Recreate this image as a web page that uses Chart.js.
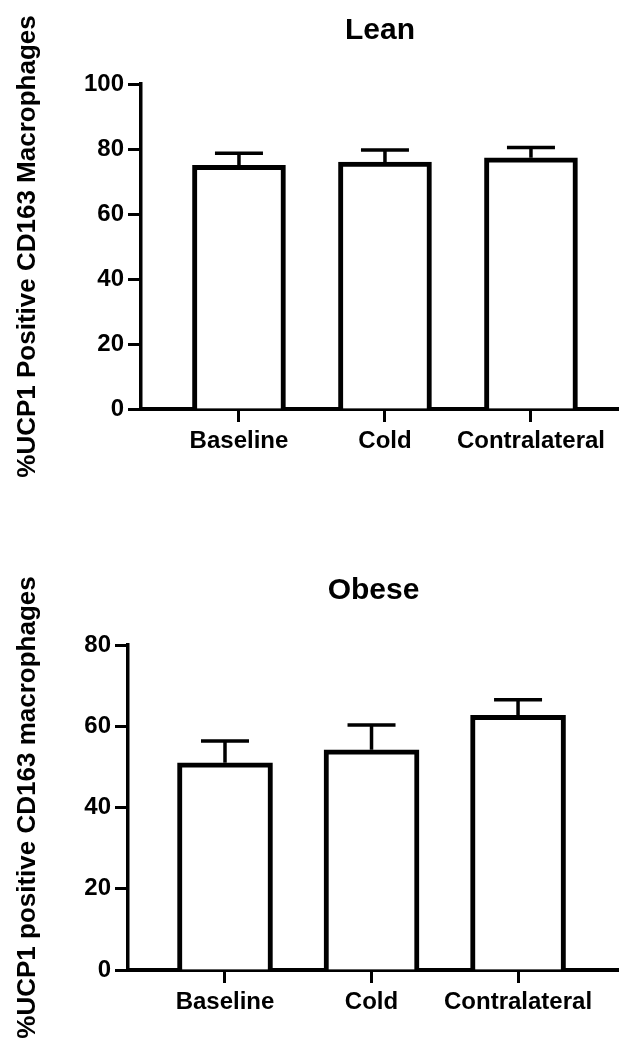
<!DOCTYPE html>
<html>
<head>
<meta charset="utf-8">
<script src="https://cdn.jsdelivr.net/npm/chart.js@4.4.0/dist/chart.umd.min.js"></script>
<style>
  body { margin: 0; background: #fff; }
  .panel { position: absolute; left: 0; }
</style>
</head>
<body>
<div class="panel" style="top:0"><canvas id="lean-chart" width="619" height="520"></canvas></div>
<div class="panel" style="top:520px"><canvas id="obese-chart" width="619" height="524"></canvas></div>
<script>
const categories = ['Baseline', 'Cold', 'Contralateral'];

const leanMeans = [75, 76, 77.3];
const leanErrors = [3.7, 3.7, 3.2];

const obeseMeans = [51, 54.2, 62.7];
const obeseErrors = [5.4, 6.1, 3.8];

const leanTicks = [0, 20, 40, 60, 80, 100];
const obeseTicks = [0, 20, 40, 60, 80];

Chart.defaults.font.family = "'Liberation Sans', Arial, sans-serif";
Chart.defaults.font.weight = 'bold';
Chart.defaults.color = '#000';

// error bars (upper only), drawn with the y scale
function errorBarPlugin(errors) {
    return {
        id: 'errorBars',
        afterDatasetsDraw(chart) {
            const ctx = chart.ctx;
            const yScale = chart.scales.y;
            const meta = chart.getDatasetMeta(0);
            const points = chart.data.datasets[0].data;
            ctx.save();
            ctx.strokeStyle = '#000';
            ctx.lineWidth = 3.5;
            meta.data.forEach((bar, i) => {
                const top = yScale.getPixelForValue(points[i].y + errors[i]);
                ctx.beginPath();
                ctx.moveTo(bar.x, bar.y);
                ctx.lineTo(bar.x, top);
                ctx.moveTo(bar.x - 24, top);
                ctx.lineTo(bar.x + 24, top);
                ctx.stroke();
            });
            ctx.restore();
        }
    };
}

// long rotated y title (the built-in one gets squeezed to the axis height)
function yTitlePlugin(text) {
    return {
        id: 'yTitle',
        afterDraw(chart) {
            const ctx = chart.ctx;
            const area = chart.chartArea;
            ctx.save();
            ctx.translate(35, (area.top + area.bottom) / 2);
            ctx.rotate(-Math.PI / 2);
            ctx.font = "bold 26px 'Liberation Sans', Arial, sans-serif";
            ctx.fillStyle = '#000';
            ctx.textAlign = 'center';
            ctx.textBaseline = 'alphabetic';
            ctx.fillText(text, 0, 0);
            ctx.restore();
        }
    };
}

function renderPanel(canvasId, title, yTitle, means, errors, ticks, cfg) {
    const ctx = document.getElementById(canvasId).getContext('2d');
    return new Chart(ctx, {
        type: 'bar',
        data: {
            datasets: [{
                data: means.map((v, i) => ({ x: i + 1, y: v })),
                backgroundColor: '#fff',
                borderColor: '#000',
                borderWidth: 5,
                barThickness: cfg.barThickness
            }]
        },
        options: {
            responsive: false,
            animation: false,
            layout: { padding: { left: 0, right: 0, top: 0, bottom: cfg.bottomPad } },
            scales: {
                x: {
                    type: 'linear',
                    offset: false,
                    min: cfg.xMin,
                    max: cfg.xMax,
                    afterBuildTicks: (axis) => {
                        axis.ticks = categories.map((c, i) => ({ value: i + 1 }));
                    },
                    afterFit: (axis) => { axis.height = 60; },
                    ticks: {
                        callback: (value) => categories[value - 1],
                        font: { size: 24, weight: 'bold' },
                        padding: 5,
                        maxRotation: 0,
                        autoSkip: false
                    },
                    grid: {
                        offset: false,
                        drawOnChartArea: false,
                        drawTicks: true,
                        tickLength: 13,
                        tickWidth: 3,
                        tickColor: '#000'
                    },
                    border: { color: '#000', width: 4 }
                },
                y: {
                    min: 0,
                    max: ticks[ticks.length - 1],
                    afterBuildTicks: (axis) => {
                        axis.ticks = ticks.map(v => ({ value: v }));
                    },
                    afterFit: (axis) => { axis.width = cfg.axisLeft; },
                    ticks: {
                        font: { size: 24, weight: 'bold' },
                        padding: 4
                    },
                    grid: {
                        drawOnChartArea: false,
                        drawTicks: true,
                        tickLength: 13,
                        tickWidth: 3,
                        tickColor: '#000'
                    },
                    border: { color: '#000', width: 3.5 }
                }
            },
            plugins: {
                legend: { display: false },
                tooltip: { enabled: false },
                title: {
                    display: true,
                    fullSize: false,
                    text: title,
                    color: '#000',
                    font: { size: 30, weight: 'bold' },
                    padding: { top: cfg.titleTop, bottom: cfg.titleBottom }
                }
            }
        },
        plugins: [errorBarPlugin(errors), yTitlePlugin(yTitle)]
    });
}

renderPanel('lean-chart', 'Lean', '%UCP1 Positive CD163 Macrophages',
    leanMeans, leanErrors, leanTicks,
    { axisLeft: 141, xMin: 0.329, xMax: 3.603, barThickness: 93,
      titleTop: 13, titleBottom: 35, bottomPad: 51 });

renderPanel('obese-chart', 'Obese', '%UCP1 positive CD163 macrophages',
    obeseMeans, obeseErrors, obeseTicks,
    { axisLeft: 128, xMin: 0.338, xMax: 3.689, barThickness: 95,
      titleTop: 53, titleBottom: 36, bottomPad: 14 });
</script>
</body>
</html>
